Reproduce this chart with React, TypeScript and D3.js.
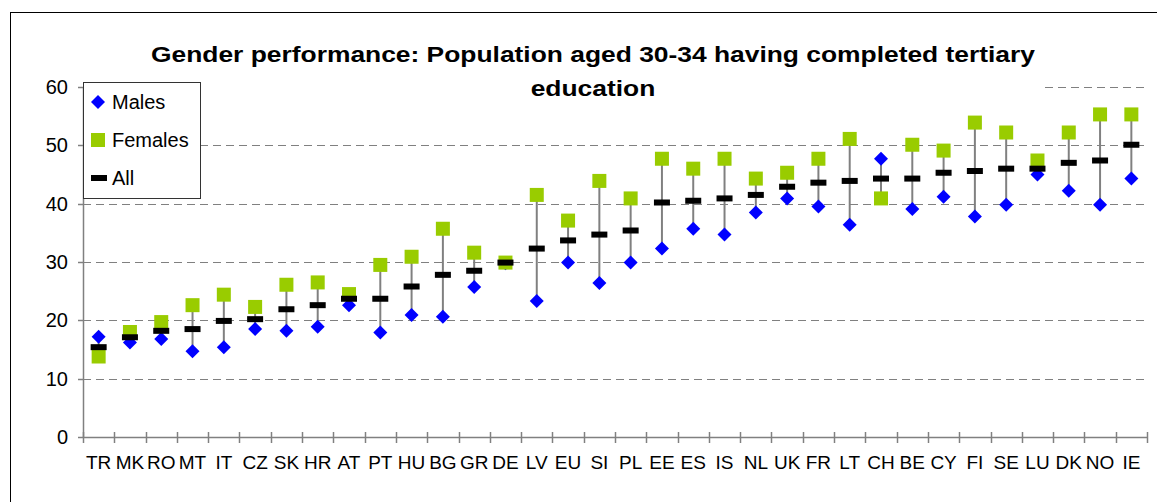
import React, { useEffect, useRef } from 'react';
import * as d3 from 'd3';

const countries = ['TR', 'MK', 'RO', 'MT', 'IT', 'CZ', 'SK', 'HR', 'AT', 'PT', 'HU', 'BG', 'GR', 'DE', 'LV', 'EU', 'SI', 'PL', 'EE', 'ES', 'IS', 'NL', 'UK', 'FR', 'LT', 'CH', 'BE', 'CY', 'FI', 'SE', 'LU', 'DK', 'NO', 'IE'];
const males = [17.2, 16.2, 16.8, 14.7, 15.4, 18.5, 18.2, 18.9, 22.6, 17.9, 20.9, 20.6, 25.7, 29.8, 23.3, 29.9, 26.4, 29.9, 32.3, 35.7, 34.7, 38.5, 40.9, 39.5, 36.4, 47.7, 39.1, 41.2, 37.8, 39.8, 45.0, 42.2, 39.8, 44.3];
const females = [13.8, 18.0, 19.7, 22.6, 24.4, 22.3, 26.1, 26.5, 24.5, 29.5, 30.9, 35.7, 31.6, 29.9, 41.5, 37.1, 43.9, 40.9, 47.7, 46.0, 47.7, 44.3, 45.3, 47.7, 51.1, 40.9, 50.1, 49.1, 53.9, 52.2, 47.4, 52.2, 55.3, 55.3];
const allPersons = [15.4, 17.1, 18.2, 18.5, 19.9, 20.2, 21.9, 22.6, 23.7, 23.7, 25.8, 27.8, 28.5, 29.9, 32.3, 33.7, 34.7, 35.4, 40.2, 40.5, 40.9, 41.5, 42.9, 43.6, 43.9, 44.3, 44.3, 45.3, 45.6, 46.0, 46.0, 47.0, 47.4, 50.1];
const yTicks = [0, 10, 20, 30, 40, 50, 60];
const titleLines = ['Gender performance: Population aged 30-34 having completed tertiary', 'education'];
const legendItems = ['Males', 'Females', 'All'];

const FONT = 'Arial, "Liberation Sans", sans-serif';

export default function App() {
    const ref = useRef<SVGSVGElement>(null);

    useEffect(() => {
        const svg = d3.select(ref.current);
        svg.selectAll('*').remove();

        const left = 83, right = 1147, top = 87, bottom = 437;

        const x = d3.scaleBand().domain(countries).range([left, right]).padding(0);
        const y = d3.scaleLinear().domain([0, 60]).range([bottom, top]);
        const cx = (c: string) => (x(c) as number) + x.bandwidth() / 2;

        const rows = countries.map((c, i) => ({ c, m: males[i], f: females[i], a: allPersons[i] }));

        // outer chart border (right/bottom fall outside the picture)
        svg.append('rect')
            .attr('x', 10.5).attr('y', 12.5)
            .attr('width', 1200).attr('height', 600)
            .style('fill', 'white').style('stroke', 'black').style('stroke-width', 1);

        // gridlines
        svg.append('g').selectAll('line')
            .data(yTicks.filter(t => t > 0))
            .enter().append('line')
            .attr('x1', left).attr('x2', right)
            .attr('y1', d => Math.round(y(d)) + 0.5).attr('y2', d => Math.round(y(d)) + 0.5)
            .style('stroke', '#808080').style('stroke-width', 1)
            .style('stroke-dasharray', '8,5');

        // title background and text (the original font runs wider, hence the x scale)
        svg.append('rect')
            .attr('x', 138).attr('y', 32).attr('width', 904).attr('height', 72)
            .style('fill', 'white');
        svg.append('g').selectAll('text')
            .data(titleLines)
            .enter().append('text')
            .attr('transform', (d, i) => 'translate(593,' + (62 + i * 34) + ') scale(1.2,1)')
            .attr('text-anchor', 'middle')
            .style('font-family', FONT).style('font-weight', 'bold').style('font-size', '22px')
            .text(d => d);

        // y axis
        const yAxis = svg.append('g');
        yAxis.append('line')
            .attr('x1', left + 0.5).attr('x2', left + 0.5)
            .attr('y1', top).attr('y2', bottom)
            .style('stroke', '#808080').style('stroke-width', 1.5);
        yAxis.selectAll('.tick')
            .data(yTicks)
            .enter().append('line')
            .attr('x1', left - 5).attr('x2', left)
            .attr('y1', d => Math.round(y(d)) + 0.5).attr('y2', d => Math.round(y(d)) + 0.5)
            .style('stroke', '#808080').style('stroke-width', 1.5);
        yAxis.selectAll('text')
            .data(yTicks)
            .enter().append('text')
            .attr('x', left - 15).attr('y', d => y(d) + 7)
            .attr('text-anchor', 'end')
            .style('font-family', FONT).style('font-size', '20px')
            .text(d => d);

        // x axis
        const xAxis = svg.append('g');
        xAxis.append('line')
            .attr('x1', left).attr('x2', right)
            .attr('y1', bottom + 0.5).attr('y2', bottom + 0.5)
            .style('stroke', '#808080').style('stroke-width', 1.5);
        xAxis.selectAll('.tick')
            .data(countries.concat(['end']))
            .enter().append('line')
            .attr('x1', (d, i) => Math.round(left + i * x.bandwidth()) + 0.5)
            .attr('x2', (d, i) => Math.round(left + i * x.bandwidth()) + 0.5)
            .attr('y1', bottom - 5).attr('y2', bottom + 6)
            .style('stroke', '#808080').style('stroke-width', 1.5);
        xAxis.selectAll('text')
            .data(countries)
            .enter().append('text')
            .attr('x', d => cx(d)).attr('y', 469)
            .attr('text-anchor', 'middle')
            .style('font-family', FONT).style('font-size', '19px')
            .text(d => d);

        // range lines between males and females
        svg.append('g').selectAll('line')
            .data(rows)
            .enter().append('line')
            .attr('x1', d => cx(d.c)).attr('x2', d => cx(d.c))
            .attr('y1', d => y(Math.min(d.m, d.f))).attr('y2', d => y(Math.max(d.m, d.f)))
            .style('stroke', '#808080').style('stroke-width', 2);

        const diamond = (px: number, py: number, r: number) =>
            `M${px},${py - r}L${px + r},${py}L${px},${py + r}L${px - r},${py}Z`;

        // males
        svg.append('g').selectAll('path')
            .data(rows)
            .enter().append('path')
            .attr('d', d => diamond(cx(d.c), y(d.m), 7))
            .style('fill', '#0000FF');

        // females
        svg.append('g').selectAll('rect')
            .data(rows)
            .enter().append('rect')
            .attr('x', d => cx(d.c) - 7).attr('y', d => y(d.f) - 7)
            .attr('width', 14).attr('height', 14)
            .style('fill', '#99CC00');

        // all
        svg.append('g').selectAll('rect')
            .data(rows)
            .enter().append('rect')
            .attr('x', d => cx(d.c) - 8).attr('y', d => y(d.a) - 3)
            .attr('width', 16).attr('height', 6)
            .style('fill', '#000000');

        // legend
        const legend = svg.append('g');
        legend.append('rect')
            .attr('x', 83.5).attr('y', 82.5).attr('width', 117).attr('height', 116)
            .style('fill', 'white').style('stroke', '#333').style('stroke-width', 1);
        legendItems.forEach((name, i) => {
            const ly = 102 + i * 38;
            if (i === 0) {
                legend.append('path').attr('d', diamond(98, ly, 7)).style('fill', '#0000FF');
            } else if (i === 1) {
                legend.append('rect').attr('x', 91).attr('y', ly - 7).attr('width', 14).attr('height', 14).style('fill', '#99CC00');
            } else {
                legend.append('rect').attr('x', 91).attr('y', ly - 3).attr('width', 16).attr('height', 6).style('fill', '#000000');
            }
            legend.append('text')
                .attr('x', 112).attr('y', ly + 7)
                .style('font-family', FONT).style('font-size', '20px')
                .text(name);
        });
    }, []);

    return (
        <svg ref={ref} width={1157} height={502}
            style={{ position: 'absolute', left: 0, top: 0, background: 'white' }} />
    );
}
